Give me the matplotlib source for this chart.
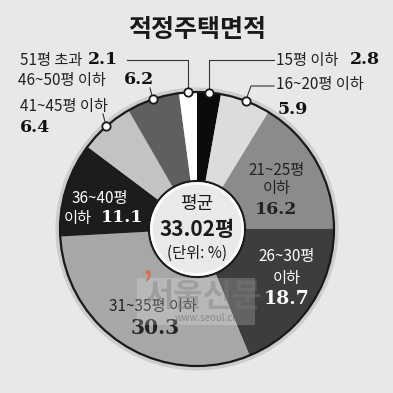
import matplotlib
matplotlib.use('Agg')
import matplotlib.pyplot as plt
from matplotlib.patches import Circle, Rectangle
import numpy as np

categories = ['15평 이하', '16~20평 이하', '21~25평 이하', '26~30평 이하', '31~35평 이하',
              '36~40평 이하', '41~45평 이하', '46~50평 이하', '51평 초과']
values = [2.8, 5.9, 16.2, 18.7, 30.3, 11.1, 6.4, 6.2, 2.1]
value_labels = ['2.8', '5.9', '16.2', '18.7', '30.3', '11.1', '6.4', '6.2', '2.1']
colors = ['#0b0b0b', '#dcdcdc', '#8b8b8b', '#3d3d3d', '#a7a7a7',
          '#1c1c1c', '#c3c3c3', '#5f5f5f', '#ffffff']
title = '적정주택면적'
avg_label = '평균'
avg_value = '33.02평'
unit = '(단위: %)'

KR = ['Noto Sans CJK KR', 'DejaVu Sans']
NUM = 'DejaVu Serif'

fig = plt.figure(figsize=(3.93, 3.93), dpi=100)
fig.patch.set_facecolor('#e8e8e8')
ax = fig.add_axes([0, 0, 1, 1])
ax.set_facecolor('#e8e8e8')

cx, cy, R, r_in = 197, 229, 137, 48

ax.add_patch(Circle((cx, cy), R + 4.5, facecolor='#cdcdcd', edgecolor='none', zorder=1))
wedges, _ = ax.pie(values, colors=colors, startangle=-90, counterclock=True,
                   radius=R, center=(cx, cy), frame=True,
                   wedgeprops=dict(width=R - r_in + 3, linewidth=0, zorder=2))
ax.set_xlim(0, 393)
ax.set_ylim(393, 0)
ax.set_aspect('equal')
ax.axis('off')

ax.add_patch(Circle((cx, cy), R, facecolor='none', edgecolor='#1a1a1a', lw=1.6, zorder=3))
ax.add_patch(Circle((cx, cy), r_in, facecolor='#e9e9e9', edgecolor='#1a1a1a', lw=1.6, zorder=4))
ax.add_patch(Circle((cx, cy), r_in - 2.5, facecolor='none', edgecolor='#fbfbfb', lw=2, zorder=4.5))

# title
ax.text(197, 30, title, ha='center', va='center', fontsize=18, fontweight='bold',
        family=KR, color='#1a1a1a')

# center texts
ax.text(197, 204, avg_label, ha='center', va='center', fontsize=13, family=KR, color='#1a1a1a', zorder=6)
ax.text(197, 230, avg_value, ha='center', va='center', fontsize=15, fontweight='bold',
        family=KR, color='#1a1a1a', zorder=6)
ax.text(197, 253, unit, ha='center', va='center', fontsize=11, family=KR, color='#1a1a1a', zorder=6)

# external labels: (index, label xy, number xy, leader corner points)
ext = [
    (8, (20, 60), (88, 60), [(None, 60), (127, 60)]),
    (0, (276, 60), (350, 60), [(None, 60), (274, 60)]),
    (7, (18, 80), (124, 80), [(150, 88)]),
    (6, (20, 107), (20, 127), [(103, 114)]),
    (1, (276, 84), (278, 110), [(251, 86), (274, 86)]),
]
for idx, lxy, nxy, corners in ext:
    w = wedges[idx]
    ang = np.deg2rad((w.theta1 + w.theta2) / 2)
    dx, dy = cx + R * np.cos(ang), cy + R * np.sin(ang)
    pts = [(dx, dy)]
    for px, py in corners:
        pts.append((dx if px is None else px, py))
    xs, ys = zip(*pts)
    ax.plot(xs, ys, color='#333333', lw=0.8, zorder=5)
    ax.plot([dx], [dy], 'o', ms=6, mfc='white', mec='#1a1a1a', mew=1.3, zorder=7)
    ax.text(lxy[0], lxy[1], categories[idx], ha='left', va='center', fontsize=11,
            family=KR, color='#222222')
    ax.text(nxy[0], nxy[1], value_labels[idx], ha='left', va='center', fontsize=12.5,
            fontweight='bold', family=NUM, color='#111111')

# internal labels
def inner(lines, color, num, nxy, nsize):
    for (t, x, y) in lines:
        ax.text(x, y, t, ha='center', va='center', fontsize=11, family=KR, color=color, zorder=6)
    ax.text(nxy[0], nxy[1], num, ha='center', va='center', fontsize=nsize,
            fontweight='bold', family=NUM, color=color, zorder=6)

inner([('21~25평', 277, 170), ('이하', 277, 188)], '#222222', value_labels[2], (276, 210), 12.5)
inner([('26~30평', 287, 257), ('이하', 287, 278)], '#ffffff', value_labels[3], (287, 299), 13.5)
inner([('31~35평 이하', 153, 307)], '#222222', value_labels[4], (155, 328), 14.5)
inner([('36~40평', 100, 198), ('이하', 78, 218)], '#ffffff', value_labels[5], (122, 218), 12.5)

# watermark
ax.add_patch(Rectangle((137, 278), 118, 47, facecolor='#ffffff', alpha=0.2, edgecolor='none', zorder=8))
ax.text(148, 286, '\u2019', ha='center', va='center', fontsize=22, fontweight='bold',
        family=KR, color='#e0603a', alpha=0.75, zorder=9)
ax.text(203, 297, '서울신문', ha='center', va='center', fontsize=23, fontweight='bold',
        family=KR, color='#7a7a7a', alpha=0.4, zorder=9)
ax.text(213, 318, 'www.seoul.co.kr', ha='center', va='center', fontsize=7,
        family=KR, color='#666666', alpha=0.55, zorder=9)

fig.savefig('out.png', dpi=100, facecolor=fig.get_facecolor())
